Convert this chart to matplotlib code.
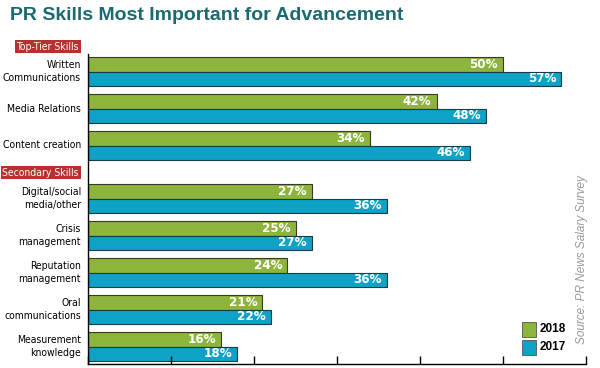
import matplotlib
matplotlib.use("Agg")
import matplotlib.pyplot as plt
from matplotlib.patches import Rectangle

# data
skills = ["Written\nCommunications", "Media Relations", "Content creation",
          "Digital/social\nmedia/other", "Crisis\nmanagement", "Reputation\nmanagement",
          "Oral\ncommunications", "Measurement\nknowledge"]
v2018 = [50, 42, 34, 27, 25, 24, 21, 16]
v2017 = [57, 48, 46, 36, 27, 36, 22, 18]
sections = ["Top-Tier Skills", "Secondary Skills"]

green = "#8db43c"
blue = "#0ea2c6"
red = "#b8322d"
teal = "#1b6a6f"
narrow = ["DejaVu Sans"]

fig = plt.figure(figsize=(6, 3.68), dpi=100)
W, H = 600, 368
x0, x1, ytop, ybot = 88, 586, 54, 364
ax = fig.add_axes([x0 / W, 1 - ybot / H, (x1 - x0) / W, (ybot - ytop) / H])

# pixel-like y units
centers = [71.5 + 37 * i + (16 if i >= 3 else 0) for i in range(len(skills))]
bh = 14.5
ax.barh([c - bh / 2 for c in centers], v2018, height=bh, color=green,
        edgecolor="#3a3a20", linewidth=0.8)
ax.barh([c + bh / 2 for c in centers], v2017, height=bh, color=blue,
        edgecolor="#1a3a44", linewidth=0.8)
for c, a, b in zip(centers, v2018, v2017):
    ax.text(a - 0.6, c - bh / 2, f"{a}%", color="white", fontweight="bold",
            fontsize=9.5, ha="right", va="center", fontstretch="condensed")
    ax.text(b - 0.6, c + bh / 2, f"{b}%", color="white", fontweight="bold",
            fontsize=9.5, ha="right", va="center", fontstretch="condensed")

ax.set_xlim(0, 60)
ax.set_ylim(ybot, ytop)
for s in ["top", "right"]:
    ax.spines[s].set_visible(False)
ax.spines["left"].set_linewidth(1)
ax.spines["bottom"].set_linewidth(1)
ax.set_xticks(range(0, 61, 10))
ax.set_xticklabels([])
ax.set_yticks([])
ax.tick_params(axis="x", direction="in", length=6, width=1)

# category labels
for c, s in zip(centers, skills):
    fig.text(81 / W, 1 - c / H, s, ha="right", va="center", fontsize=7.5,
             family=narrow, fontstretch="condensed", linespacing=1.3)

# section labels
for txt, yc in zip(sections, [46.5, 172.5]):
    fig.text(79 / W, 1 - yc / H, txt, ha="right", va="center", fontsize=7.5,
             family=narrow, fontstretch="condensed", color="white",
             bbox=dict(boxstyle="square,pad=0.18", fc=red, ec="none"))

# title
fig.text(10 / W, 1 - 15 / H, "PR Skills Most Important for Advancement",
         ha="left", va="center", fontsize=14, fontweight="heavy", color=teal,
         family=["Liberation Sans", "DejaVu Sans"])

# legend
for yy, col, lab in [(322, green, "2018"), (340, blue, "2017")]:
    fig.patches.append(Rectangle((522 / W, 1 - (yy + 15) / H), 14 / W, 15 / H,
                                 transform=fig.transFigure, fc=col, ec="#555555",
                                 lw=0.6))
    fig.text(540 / W, 1 - (yy + 7.5) / H, lab, ha="left", va="center",
             fontsize=8.5, fontweight="bold",
             family=["Liberation Sans", "DejaVu Sans"])

# source
fig.text(582 / W, 1 - 260 / H, "Source: PR News Salary Survey", rotation=90,
         ha="center", va="center", fontsize=8.5, style="italic", color="#999999",
         family=["Liberation Sans", "DejaVu Sans"])

fig.savefig("out.png", dpi=100)
